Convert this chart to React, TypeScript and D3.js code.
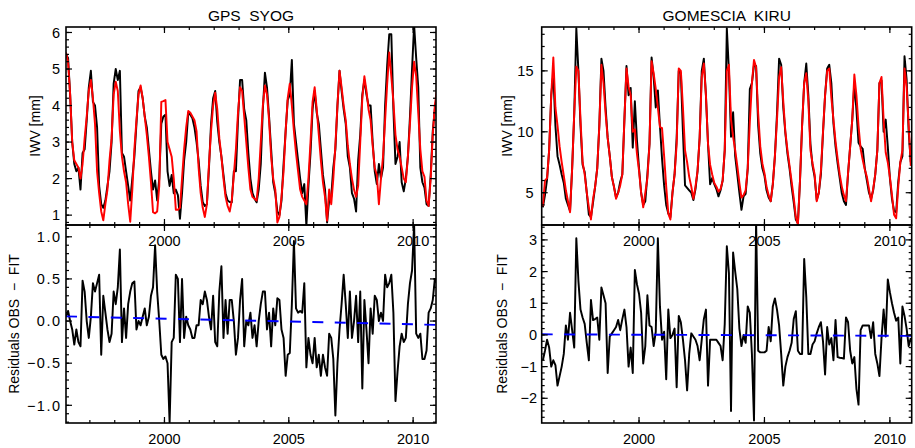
import React from "react";
import * as d3 from "d3";

// ---------- DATA ----------
// GPS SYOG, monthly from Jan 1996
const syogStart = 1996.04;
const syogFit = [
  5.45, 5.2, 4.3, 3.0, 2.5, 2.4, 2.3, 2.0, 2.4, 3.1, 3.7, 4.4,
  4.7, 4.2, 3.5, 2.2, 1.6, 1.1, 0.86, 1.3, 1.7, 2.5, 3.1, 4.3,
  4.65, 4.4, 3.3, 2.6, 2.2, 1.9, 1.3, 0.82, 1.7, 2.8, 3.6, 4.3,
  4.55, 4.2, 3.7, 3.2, 2.6, 1.9, 1.08, 1.05, 1.1, 1.8, 4.1, 4.12,
  4.15, 3.0, 2.8, 2.6, 2.0, 1.15, 1.15, 1.2, 2.0, 2.8, 3.4, 3.85,
  3.8, 3.7, 3.6, 3.3, 2.3, 1.6, 1.2, 0.95, 1.3, 2.4, 3.3, 4.0,
  4.35, 3.9, 3.1, 2.6, 2.0, 1.5, 1.25, 1.1, 1.4, 2.1, 2.8, 3.8,
  4.5, 4.4, 3.7, 3.0, 2.3, 1.7, 1.5, 1.45, 1.4, 2.0, 3.0, 4.0,
  4.55, 4.3, 3.6, 2.6, 2.0, 1.7, 0.8, 0.95, 1.5, 2.2, 3.3, 4.2,
  4.6, 4.0, 3.3, 2.7, 2.2, 1.7, 1.5, 1.4, 1.3, 2.0, 3.0, 4.1,
  4.5, 3.9, 3.2, 2.5, 1.9, 1.5, 0.85, 1.7, 1.3, 2.0, 2.9, 4.0,
  4.95, 4.5, 4.0, 3.6, 2.9, 2.4, 2.0, 1.7, 1.5, 1.8, 3.0, 4.2,
  4.8, 4.4, 3.9, 3.6, 2.9, 2.3, 2.1, 1.3, 2.0, 2.6, 3.6, 4.6,
  5.45, 4.8, 4.1, 3.2, 2.8, 2.6, 2.3, 2.0, 1.9, 2.6, 3.5, 4.5,
  5.2, 4.8, 3.8, 2.8, 2.2, 2.05, 1.4, 1.25, 2.0, 3.2, 4.0, 4.45,
];
const syogObs = [
  5.4, 5.3, 4.3, 3.0, 2.4, 2.2, 2.3, 1.7, 2.7, 2.8, 3.6, 4.5,
  4.95, 4.1, 4.0, 3.4, 1.8, 1.3, 1.2, 1.4, 1.8, 2.2, 3.0, 4.6,
  5.0, 4.7, 4.95, 2.7, 2.6, 2.2, 1.8, 1.4, 2.0, 2.6, 3.5, 4.4,
  4.5, 4.2, 3.7, 3.4, 2.8, 2.2, 1.7, 1.95, 1.4, 2.0, 3.5, 3.7,
  3.75, 2.2, 1.8, 2.1, 1.6, 1.7, 1.55, 0.9, 1.6, 2.5, 3.0, 3.8,
  3.75, 3.65, 3.4, 3.0, 2.5, 1.8, 1.35, 1.25, 1.3, 2.3, 3.5, 4.2,
  4.4, 3.55, 3.0, 2.6, 2.1, 1.6, 1.4, 1.36, 1.35, 2.2, 2.2, 3.6,
  4.7, 4.7, 3.9, 3.6, 2.7, 2.0, 1.6, 1.45, 1.35, 1.7, 2.4, 3.9,
  4.9, 4.5, 3.7, 2.8, 1.9, 1.6, 1.1, 1.0, 1.4, 2.4, 3.3, 4.15,
  4.3, 5.25, 3.5, 3.0, 2.5, 2.0, 1.6, 1.85, 0.7, 1.8, 2.7, 3.9,
  4.4, 3.8, 3.5, 2.8, 2.1, 1.7, 0.8, 1.4, 1.5, 2.3, 2.8, 4.0,
  4.95, 4.4, 3.9, 3.5, 2.6, 2.3, 1.6, 1.45, 1.1, 2.5, 3.2, 4.3,
  4.7, 4.3, 4.0, 4.0, 3.0, 2.2, 1.85, 2.4, 2.0, 2.3, 4.0, 5.1,
  5.95, 5.95, 3.9, 2.4, 2.6, 3.0, 1.9, 1.65, 2.0, 2.6, 3.7, 5.0,
  6.2, 5.3, 4.5, 2.3, 1.9, 1.75, 1.3, 1.25, 2.1, 3.3, 3.9, 4.3,
];
const syogRes = [
  0.05, 0.12, 0.0, -0.1, -0.28, -0.1, -0.25, -0.3, 0.48, 0.35, 0.0, -0.2,
  0.05, 0.45, 0.35, 0.45, 0.55, -0.4, 0.3, 0.1, -0.1, -0.25, -0.15, 0.35,
  0.2, 0.4, 0.85, -0.25, 0.15, -0.2, 0.2, 0.35, 0.45, 0.47, -0.1, 0.0,
  -0.05, 0.05, 0.15, -0.05, 0.05, 0.3, 0.4, 0.9, 0.35, 0.0, -0.4, -0.45,
  -0.42, -0.5, -1.2, -0.25, -0.2, 0.55, 0.5, -0.25, 0.5, -0.2, 0.05, -0.05,
  -0.1, -0.2, -0.2, -0.05, -0.05, 0.25, 0.2, 0.35, 0.25, 0.05, -0.1, 0.3,
  -0.25, -0.3, 0.35, 0.65, -0.2, 0.25, -0.15, 0.25, 0.25, 0.0, -0.4, -0.2,
  0.25, 0.5, -0.3, 0.0, -0.05, 0.1, -0.2, -0.05, -0.3, 0.0, 0.2, 0.35,
  0.35, -0.1, 0.1, -0.3, 0.15, -0.05, 0.27, 0.25, -0.1, -0.2, -0.65, -0.4,
  -0.38, 0.2, 0.95, 0.15, 0.1, 0.12, 0.1, 0.45, -0.55, -0.2, -0.4, -0.5,
  -0.2, -0.55, -0.4, -0.65, -0.4, -0.55, -0.65, -0.15, -0.2, -0.45, -1.12, -0.5,
  -0.1, 0.2, 0.55, 0.2, -0.2, 0.35, -0.2, 0.0, 0.3, -0.25, 0.35, -0.8,
  0.25, -0.1, -0.5, 0.15, -0.15, 0.3, 0.25, 0.0, 0.1, 0.0, 0.55, 0.4,
  0.45, 0.55, 0.1, -0.95, -0.6, -0.3, -0.15, -0.25, -0.2, 0.2, 0.45, 0.6,
  1.15, -0.15, -0.2, -0.15, -0.45, -0.45, -0.35, 0.1, 0.15, 0.25, 0.5, 0.45,
];
const syogTrend = [0.055, -0.045];

// GOMESCIA KIRU, monthly from Feb 1996
const kiruStart = 1996.167;
const kiruFit = [
  3.9, 6.0, 6.2, 8.5, 13.0, 16.1, 12.0, 10.5, 8.8, 7.5, 6.4, 5.2,
  4.3, 3.4, 7.0, 11.5, 15.35, 15.0, 11.0, 7.5, 6.5, 5.0, 3.8, 2.8,
  4.5, 5.5, 7.0, 10.5, 15.5, 14.0, 11.5, 9.5, 8.0, 6.3, 5.5, 4.5,
  5.0, 5.6, 6.5, 11.0, 15.2, 13.7, 13.0, 10.0, 10.2, 8.2, 6.8, 5.0,
  3.8, 5.0, 6.2, 9.0, 15.8, 14.8, 13.5, 12.0, 10.4, 10.3, 8.0, 5.5,
  3.3, 2.8, 5.0, 6.5, 9.0, 15.2, 15.0, 12.0, 8.5, 7.5, 6.3, 5.5,
  4.5, 5.5, 6.8, 9.5, 14.5, 15.6, 13.0, 9.0, 7.3, 6.5, 5.8, 5.5,
  5.1, 5.3, 6.0, 8.5, 15.0, 15.5, 11.0, 9.6, 8.5, 7.2, 5.8, 4.6,
  4.8, 5.2, 7.0, 10.8, 14.0, 15.9, 15.3, 11.5, 8.8, 7.4, 6.6, 5.5,
  4.8, 4.3, 5.7, 8.0, 11.0, 14.5, 15.3, 12.5, 10.0, 8.5, 7.2, 5.9,
  4.6, 3.0, 2.4, 6.0, 10.5, 14.0, 14.8, 12.5, 8.5, 7.4, 6.5, 4.3,
  5.0, 6.8, 10.0, 13.0, 15.0, 15.2, 12.8, 11.0, 9.2, 7.8, 6.5, 5.5,
  4.8, 4.3, 6.6, 8.8, 11.0, 14.7, 13.0, 10.5, 8.6, 7.7, 6.9, 6.3,
  5.3, 4.3, 5.3, 6.5, 8.5, 14.0, 14.5, 11.0, 8.3, 7.5, 6.3, 4.8,
  3.2, 2.9, 5.5, 7.5, 8.5, 15.2, 13.7, 10.5, 7.2,
];
const kiruObs = [
  3.8, 4.8, 6.1, 8.5, 13.0, 14.8, 10.5, 8.0, 7.3, 6.5, 5.8, 4.5,
  4.0, 3.5, 7.0, 11.5, 18.5, 15.0, 10.5, 7.3, 6.7, 5.0, 3.2, 3.0,
  4.2, 5.5, 7.0, 10.5, 16.0, 15.0, 12.0, 9.5, 8.0, 6.3, 5.5, 4.6,
  5.0, 5.9, 6.5, 11.0, 15.4, 13.0, 13.6, 8.7, 12.5, 9.3, 7.0, 5.0,
  4.0, 4.3, 6.5, 9.0, 16.1, 14.5, 12.0, 13.4, 10.5, 7.8, 5.6, 4.0,
  3.3, 3.0, 5.0, 6.5, 9.5, 15.0, 14.8, 10.0, 5.6, 5.4, 5.2, 5.0,
  4.4, 5.3, 6.8, 9.5, 15.0, 16.0, 13.0, 9.0, 5.7, 6.2, 5.7, 5.3,
  4.7, 5.2, 6.0, 8.5, 18.5, 15.0, 9.6, 11.6, 8.0, 6.5, 5.0, 3.6,
  4.7, 4.9, 7.0, 13.5, 14.0, 15.5, 15.4, 10.5, 8.2, 7.0, 6.4, 5.2,
  4.6, 4.3, 5.7, 8.0, 11.5, 16.0, 15.5, 12.0, 9.9, 8.2, 7.0, 5.5,
  4.2, 2.8, 2.5, 6.0, 10.5, 14.0, 15.6, 13.0, 9.0, 7.2, 6.3, 4.4,
  5.0, 6.5, 9.9, 13.0, 15.2, 15.5, 14.0, 10.7, 8.8, 7.4, 6.2, 4.95,
  4.3, 4.0, 6.6, 8.8, 11.0, 14.0, 11.8, 9.1, 8.8, 8.6, 7.0, 6.0,
  5.0, 4.5, 5.2, 6.5, 8.5, 14.0, 14.2, 10.0, 11.0, 8.8, 6.2, 4.5,
  3.5, 3.4, 5.9, 7.5, 8.0, 16.2, 14.3, 10.0, 7.5,
];
const kiruRes = [
  -0.8, -0.5, -0.15, -0.4, -1.0, -0.8, -0.95, -1.6, -1.3, -1.0, -0.6, 0.3,
  -0.15, 0.7, 0.15, -0.4, 3.05, 1.7, 0.8, 0.55, 0.35, -0.25, -0.8, 1.1,
  0.47, 0.5, 0.55, -0.15, 1.5, 1.25, 1.0, -1.2, -0.05, 0.05, 0.15, 0.25,
  0.47, 0.15, 0.5, 0.8, 0.25, -1.0, -0.4, -1.2, 2.05, 1.6, 1.3, 0.7,
  -0.9, -0.35, 1.25, 0.3, 0.25, -0.35, 0.1, 3.05, 0.9, -0.15, 0.1, -1.4,
  0.8, -0.1, 0.0, 0.2, -1.65, 0.6, 0.4, -0.15, -0.8, -1.75, -0.6, 0.05,
  -0.05, -0.15, -0.35, -0.8, -0.15, 0.5, 0.8, -1.6, -0.15, -0.15, -0.15, -0.15,
  -0.25, -0.35, -0.8, 0.35, 2.8, 1.95, -2.4, 2.6, 2.0, 1.45, 0.2, -0.35,
  0.0, -0.25, 0.9, 0.7, -0.6, -2.7, 3.6, -0.5, -0.55, -0.55, -0.55, -0.5,
  0.25, -0.2, 0.9, 1.15, 0.8, 0.3, -0.6, -1.6, -1.0, -0.7, -0.5, -0.25,
  0.5, 0.75, -0.5, -0.6, -0.6, 2.4, 1.2, -0.6, -0.6, -0.3, -0.2, 0.05,
  0.25, 0.4, -0.2, -1.25, 0.25, -0.3, -0.1, -0.8, 0.47, -0.7, -0.72, -0.73,
  -0.75, 0.55, 0.4, -0.5, -0.9, -0.7, -1.7, -2.2, 0.15, 0.3, 0.3, 0.3,
  0.3, -0.1, 0.4, -0.6, -0.9, -1.3, -0.1, 0.8, -0.05, 1.75, 1.35, 1.0,
  0.7, 0.45, 0.55, -0.9, 0.9, 0.6, 0.2, -0.35, -0.1,
];
const kiruTrend = [0.02, -0.03];

const yearLabels = [2000, 2005, 2010];
const syogIwvTicks = [1, 2, 3, 4, 5, 6];
const syogResTicks = [-1.0, -0.5, 0.0, 0.5, 1.0];
const kiruIwvTicks = [5, 10, 15];
const kiruResTicks = [-2, -1, 0, 1, 2, 3];

// ---------- DRAWING ----------
const FONT = "'Liberation Sans', Arial, Helvetica, sans-serif";

type Series = { values: number[]; start: number; color: string };
type PanelProps = {
  id: string;
  l: number; r: number; t: number; b: number;
  xDom: [number, number];
  yDom: [number, number];
  yMajor: number[];
  yMinorStep: number;
  yFmt: (v: number) => string;
  labelRight: number;
  labelSpacing?: number;
  series: Series[];
  trend?: number[];
  yTitle: string;
  yTitleX: number;
};

function Panel(p: PanelProps) {
  const x = d3.scaleLinear().domain(p.xDom).range([p.l, p.r]);
  const y = d3.scaleLinear().domain(p.yDom).range([p.b, p.t]);
  const MAJ = 6, MIN = 3;
  const kMin = Math.ceil(p.yDom[0] / p.yMinorStep - 1e-9);
  const kMax = Math.floor(p.yDom[1] / p.yMinorStep + 1e-9);
  const yMinor = d3.range(kMin, kMax + 1).map((k) => k * p.yMinorStep);
  const xMinor = d3.range(1996, 2012).filter((v) => v >= p.xDom[0] && v <= p.xDom[1]);
  const xMajor = yearLabels.filter((v) => v >= p.xDom[0] && v <= p.xDom[1]);

  const mkLine = (start: number) =>
    d3.line<number>().x((_, i) => x(start + i / 12)).y((d) => y(d));

  const ticks: JSX.Element[] = [];
  yMinor.forEach((v, i) => {
    const yy = y(v);
    ticks.push(<line key={"ymL" + i} x1={p.l} x2={p.l + MIN} y1={yy} y2={yy} />);
    ticks.push(<line key={"ymR" + i} x1={p.r} x2={p.r - MIN} y1={yy} y2={yy} />);
  });
  p.yMajor.forEach((v, i) => {
    const yy = y(v);
    ticks.push(<line key={"yML" + i} x1={p.l} x2={p.l + MAJ} y1={yy} y2={yy} />);
    ticks.push(<line key={"yMR" + i} x1={p.r} x2={p.r - MAJ} y1={yy} y2={yy} />);
  });
  xMinor.forEach((v, i) => {
    const xx = x(v);
    ticks.push(<line key={"xmB" + i} x1={xx} x2={xx} y1={p.b} y2={p.b - MIN} />);
    ticks.push(<line key={"xmT" + i} x1={xx} x2={xx} y1={p.t} y2={p.t + MIN} />);
  });
  xMajor.forEach((v, i) => {
    const xx = x(v);
    ticks.push(<line key={"xMB" + i} x1={xx} x2={xx} y1={p.b} y2={p.b - MAJ} />);
    ticks.push(<line key={"xMT" + i} x1={xx} x2={xx} y1={p.t} y2={p.t + MAJ} />);
  });

  const cy = (p.t + p.b) / 2;
  return (
    <g>
      <defs>
        <clipPath id={p.id}>
          <rect x={p.l} y={p.t} width={p.r - p.l} height={p.b - p.t} />
        </clipPath>
      </defs>
      <g clipPath={`url(#${p.id})`} fill="none" strokeLinejoin="round">
        {p.series.map((s, i) => (
          <path key={i} d={mkLine(s.start)(s.values) || ""} stroke={s.color} strokeWidth={1.95} />
        ))}
        {p.trend && (
          <line
            x1={x(p.xDom[0])}
            x2={x(p.xDom[1])}
            y1={y(p.trend[0])}
            y2={y(p.trend[1])}
            stroke="#0000ff"
            strokeWidth={1.9}
            strokeDasharray="11 11.4"
          />
        )}
      </g>
      <g stroke="#000" strokeWidth={1.2}>{ticks}</g>
      <rect x={p.l} y={p.t} width={p.r - p.l} height={p.b - p.t} fill="none" stroke="#000" strokeWidth={1.6} />
      <g fontSize={14.5} fill="#000" fontFamily={FONT}>
        {p.yMajor.map((v, i) => (
          <text key={i} x={p.labelRight} y={y(v) + 5.2} textAnchor="end" letterSpacing={p.labelSpacing || 0}>
            {p.yFmt(v)}
          </text>
        ))}
        {xMajor.map((v, i) => (
          <text key={"x" + i} x={x(v)} y={p.b + 21} textAnchor="middle">
            {String(v)}
          </text>
        ))}
      </g>
      <text
        transform={`translate(${p.yTitleX},${cy}) rotate(-90)`}
        textAnchor="middle"
        fontSize={14}
        fontFamily={FONT}
        style={{ whiteSpace: "pre" }}
      >
        {p.yTitle}
      </text>
    </g>
  );
}

export default function App() {
  const L = { l: 66, r: 436 };
  const R = { l: 541.7, r: 911.7 };
  const TOP = { t: 27, b: 225 };
  const BOT = { t: 225, b: 423 };
  const syogX: [number, number] = [1996.04, 2010.92];
  const kiruX: [number, number] = [1996.12, 2010.87];
  const fmt1 = (v: number) => (v < 0 ? "\u2212" : "") + Math.abs(v).toFixed(1);
  const fmt0 = (v: number) => (v < 0 ? "\u2212" : "") + Math.abs(v).toFixed(0);

  return (
    <svg
      width={915}
      height={448}
      style={{ position: "absolute", left: 0, top: 0, background: "#fff" }}
      fontFamily={FONT}
    >
      <rect width={915} height={448} fill="#fff" />
      <text x={(L.l + L.r) / 2} y={20.5} textAnchor="middle" fontSize={15.5} style={{ whiteSpace: "pre" }}>
        {"GPS  SYOG"}
      </text>
      <text x={(R.l + R.r) / 2} y={20.5} textAnchor="middle" fontSize={15.5} style={{ whiteSpace: "pre" }}>
        {"GOMESCIA  KIRU"}
      </text>

      <Panel
        id="c1" {...L} {...TOP}
        xDom={syogX} yDom={[0.73, 6.15]}
        yMajor={syogIwvTicks} yMinorStep={0.2} yFmt={fmt0}
        labelRight={60}
        series={[
          { values: syogObs, start: syogStart, color: "#000" },
          { values: syogFit, start: syogStart, color: "#ff0000" },
        ]}
        yTitle="IWV [mm]" yTitleX={40}
      />
      <Panel
        id="c2" {...L} {...BOT}
        xDom={syogX} yDom={[-1.21, 1.14]}
        yMajor={syogResTicks} yMinorStep={0.1} yFmt={fmt1}
        labelRight={61.5} labelSpacing={1.5}
        series={[{ values: syogRes, start: syogStart, color: "#000" }]}
        trend={syogTrend}
        yTitle={"Residuals OBS  \u2212  FIT"} yTitleX={18.5}
      />
      <Panel
        id="c3" {...R} {...TOP}
        xDom={kiruX} yDom={[2.35, 18.6]}
        yMajor={kiruIwvTicks} yMinorStep={1} yFmt={fmt0}
        labelRight={533.5}
        series={[
          { values: kiruObs, start: kiruStart, color: "#000" },
          { values: kiruFit, start: kiruStart, color: "#ff0000" },
        ]}
        yTitle="IWV [mm]" yTitleX={511.7}
      />
      <Panel
        id="c4" {...R} {...BOT}
        xDom={kiruX} yDom={[-2.78, 3.47]}
        yMajor={kiruResTicks} yMinorStep={0.2} yFmt={fmt0}
        labelRight={537}
        series={[{ values: kiruRes, start: kiruStart, color: "#000" }]}
        trend={kiruTrend}
        yTitle={"Residuals OBS  \u2212  FIT"} yTitleX={507}
      />
    </svg>
  );
}
